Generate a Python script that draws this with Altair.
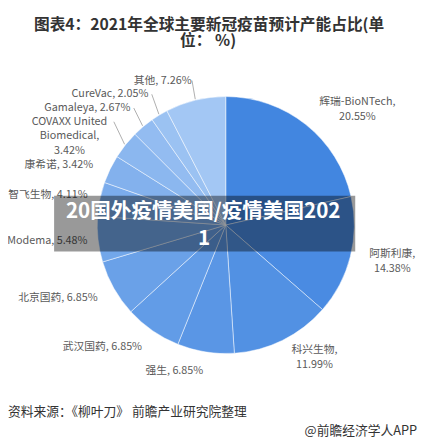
import math
import altair as alt
import pandas as pd

# ---- data ----
names = ["辉瑞-BioNTech", "阿斯利康", "科兴生物", "强生", "武汉国药", "北京国药",
         "Modema", "智飞生物", "康希诺", "COVAXX United Biomedical", "Gamaleya",
         "CureVac", "其他"]
values = [20.55, 14.38, 11.99, 6.85, 6.85, 6.85, 5.48, 4.11, 3.42, 3.42, 2.67, 2.05, 7.26]
labels = ["辉瑞-BioNTech,\n20.55%", "阿斯利康,\n14.38%", "科兴生物,\n11.99%",
          "强生, 6.85%", "武汉国药, 6.85%", "北京国药, 6.85%", "Modema, 5.48%",
          "智飞生物, 4.11%", "康希诺, 3.42%", "COVAXX United\nBiomedical,\n3.42%",
          "Gamaleya, 2.67%", "CureVac, 2.05%", "其他, 7.26%"]
has_line = [False, False, False, False, False, False, False, False, False,
            True, True, True, True]
colors = ["#4286E0", "#4A8BE2", "#5291E3", "#5A96E5", "#629CE7", "#6AA1E8",
          "#72A7EA", "#7BACEC", "#83B1ED", "#8BB7EF", "#93BCF1", "#9BC2F2", "#A3C7F4"]

title_l1 = "图表4：2021年全球主要新冠疫苗预计产能占比(单"
title_l2 = "位： %)"
banner_l1 = "20国外疫情美国/疫情美国202"
banner_l2 = "1"
source_txt = "资料来源：《柳叶刀》 前瞻产业研究院整理"
brand_txt = "@前瞻经济学人APP"

# ---- layout constants ----
CX, CY, R = 222, 217, 131
GAP = 20
FS = 11
LH = 15
FONT = "Noto Sans CJK SC"


def em_width(s):
    w = 0.0
    for ch in s:
        o = ord(ch)
        if o > 0x2E80:
            w += 1.0
        elif ch in ",.":
            w += 0.25
        elif ch == " ":
            w += 0.22
        elif ch == "%":
            w += 0.85
        elif ch == "-":
            w += 0.32
        elif ch in "MmW":
            w += 0.85
        elif ch.isupper():
            w += 0.65
        else:
            w += 0.55
    return w


total = sum(values)
rows = []
cum = 0.0
for i, (n, v, lab, hl) in enumerate(zip(names, values, labels, has_line)):
    mid = (cum + v / 2) / total * 2 * math.pi
    cum += v
    s, c = math.sin(mid), math.cos(mid)
    nl = len(lab.split("\n"))
    w = max(em_width(t) for t in lab.split("\n")) * FS
    rows.append(dict(idx=i, name=n, value=v, label=lab, line=hl, s=s, c=c, nl=nl,
                     side=1 if s >= 0 else -1, w=w, h=nl * LH - 1,
                     ax=CX + (R + GAP) * s, ay=CY - (R + GAP) * c))

# simple anti-overlap relaxation of label positions on each side
for side in (1, -1):
    grp = sorted([r for r in rows if r["side"] == side], key=lambda r: r["ay"])
    for _ in range(300):
        moved = False
        for a, b in zip(grp, grp[1:]):
            need = (a["h"] + b["h"]) / 2
            gap = b["ay"] - a["ay"]
            if gap < need - 0.01:
                d = (need - gap) / 2
                a["ay"] -= d
                b["ay"] += d
                moved = True
        if not moved:
            break

for r in rows:
    tx = r["ax"] + r["side"] * r["w"] / 2
    tx = max(tx, r["w"] / 2 + 1)
    r["tx"] = tx
    r["ty"] = r["ay"] - (r["nl"] - 1) * LH / 2   # first line position
    r["lx1"] = CX + (R + 1) * r["s"]
    r["ly1"] = CY - (R + 1) * r["c"]
    r["lx2"] = CX + (R + GAP - 5) * r["s"]
    r["ly2"] = r["ty"]

df = pd.DataFrame(rows).drop(columns=["s", "c"])

base = alt.Chart(df)

arcs = base.mark_arc(outerRadius=R, stroke="white", strokeWidth=0.7,
                     strokeOpacity=0.7).encode(
    theta=alt.Theta("value:Q", stack=True),
    order=alt.Order("idx:Q"),
    color=alt.Color("name:N", scale=alt.Scale(domain=names, range=colors), legend=None),
    x=alt.value(CX), y=alt.value(CY),
)

lines = base.mark_rule(color="#999999", strokeWidth=0.8).encode(
    x=alt.X("lx1:Q", scale=None), y=alt.Y("ly1:Q", scale=None),
    x2="lx2:Q", y2="ly2:Q",
).transform_filter("datum.line")

texts = base.mark_text(font=FONT, fontSize=FS, color="#5a5a5a", align="center",
                       baseline="middle", lineBreak="\n", lineHeight=LH).encode(
    x=alt.X("tx:Q", scale=None), y=alt.Y("ty:Q", scale=None), text="label:N")

one = pd.DataFrame({"a": [0]})

banner = alt.Chart(one).mark_rect(color="black", opacity=0.4).encode(
    x=alt.value(47), x2=alt.value(354), y=alt.value(187), y2=alt.value(244))

bt1 = alt.Chart(one).mark_text(font=FONT, fontSize=21, fontWeight="bold", color="white",
                               align="center", baseline="middle").encode(
    x=alt.value(199), y=alt.value(204), text=alt.value(banner_l1))
bt2 = alt.Chart(one).mark_text(font=FONT, fontSize=21, fontWeight="bold", color="white",
                               align="center", baseline="middle").encode(
    x=alt.value(200), y=alt.value(231), text=alt.value(banner_l2))

t1 = alt.Chart(one).mark_text(font=FONT, fontSize=16, fontWeight="bold", color="#333333",
                              align="center", baseline="middle").encode(
    x=alt.value(205), y=alt.value(13), text=alt.value(title_l1))
t2 = alt.Chart(one).mark_text(font=FONT, fontSize=16, fontWeight="bold", color="#333333",
                              align="center", baseline="middle").encode(
    x=alt.value(204), y=alt.value(29), text=alt.value(title_l2))

src = alt.Chart(one).mark_text(font=FONT, fontSize=13, color="#333333",
                               align="left", baseline="middle").encode(
    x=alt.value(0), y=alt.value(408), text=alt.value(source_txt))
brand = alt.Chart(one).mark_text(font=FONT, fontSize=13, color="#333333",
                                 align="right", baseline="middle").encode(
    x=alt.value(417), y=alt.value(427), text=alt.value(brand_txt))

chart = alt.layer(arcs, lines, texts, banner, bt1, bt2, t1, t2, src, brand).properties(
    width=419, height=440, padding=0, autosize="none",
    background="white",
).configure_view(stroke=None)

chart.save("out.html", embed_options={"renderer": "svg", "actions": False})
